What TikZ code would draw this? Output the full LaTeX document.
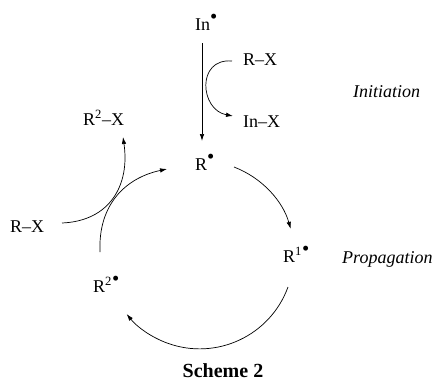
\documentclass[tikz,border=0pt]{standalone}
\usepackage{fontspec}
\setmainfont{Liberation Serif}
\usepackage{tikz}
\usetikzlibrary{arrows, arrows.meta}
\tikzset{chem/.style = {anchor = base west, inner sep = 0pt, font = \fontsize{18}{20}\selectfont}}
\tikzset{phase/.style = {chem, font = \fontsize{18}{20}\selectfont\itshape}}
\tikzset{edge/.style = {-{Latex[length=7pt, width=4.5pt]}, line width = 0.7pt}}
\newcommand{\rad}{\raisebox{0.36em}{\scalebox{1.15}{\textbullet}}}

\begin{document}
\begin{tikzpicture}[x = 1pt, y = -1pt]
				\useasboundingbox (0, 0) rectangle (439, 381);
				\node[chem] (in) at (195, 30) {In\rad};
				\node[chem] (rx) at (243, 65) {R--X};
				\node[chem] (inx) at (243, 127) {In--X};
				\node[chem] (r) at (195, 170) {R\rad};
				\node[chem] (rtwox) at (83, 125) {R\textsuperscript{2}--X};
				\node[chem] (rxl) at (10, 232) {R--X};
				\node[chem] (rtwo) at (93, 292) {R\textsuperscript{2}\rad};
				\node[chem] (rone) at (283, 262) {R\textsuperscript{1}\rad};
				\node[phase] (init) at (353, 97) {Initiation};
				\node[phase] (prop) at (342, 263) {Propagation};
				\node[anchor = base, inner sep = 0pt, font = \fontsize{20}{22}\selectfont\bfseries] (scheme) at (223, 377) {Scheme 2};
	
				\coordinate (ia) at (202, 43);
				\coordinate (ib) at (202, 141);
				\coordinate (ca) at (232, 61);
				\coordinate (cb) at (233, 116);
				\coordinate (pa) at (234, 167);
				\coordinate (qa) at (288, 287);
				\coordinate (sa) at (100, 252);
				\coordinate (sb) at (167, 169);
				\coordinate (ta) at (62, 223);
				\coordinate (tb) at (123, 137);
	
				\draw[edge] (ia) -- (ib);
				\draw[edge] (ca) .. controls (196, 58) and (200, 110) .. (cb);
				\draw[edge] (pa) arc[start angle = -69, end angle = -16, radius = 94];
				\draw[edge] (qa) arc[start angle = 20, end angle = 141, radius = 94];
				\draw[edge] (sa) .. controls (98, 205) and (125, 178) .. (sb);
				\draw[edge] (ta) .. controls (110, 221) and (130, 185) .. (tb);
			\end{tikzpicture}
\end{document}
